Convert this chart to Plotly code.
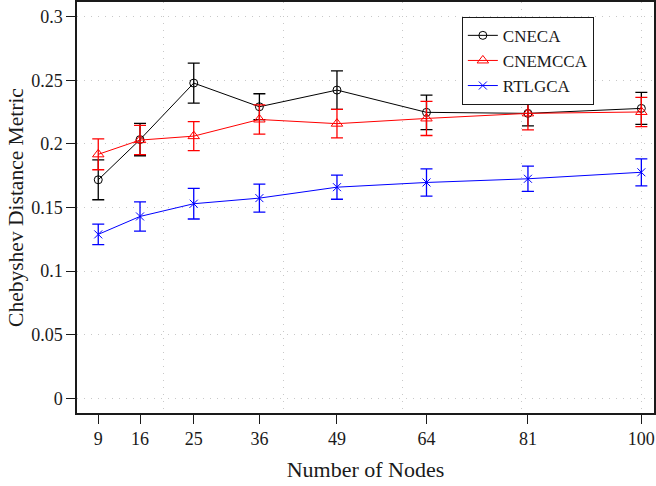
import plotly.graph_objects as go

nodes = [9, 16, 25, 36, 49, 64, 81, 100]

cneca = [0.1718, 0.2034, 0.2478, 0.2292, 0.2423, 0.2248, 0.2240, 0.2279]
cneca_err = [0.0157, 0.0127, 0.0157, 0.0102, 0.0151, 0.0136, 0.0098, 0.0126]

cnemcca = [0.1918, 0.2030, 0.2061, 0.2192, 0.2159, 0.2200, 0.2240, 0.2251]
cnemcca_err = [0.0121, 0.0115, 0.0114, 0.0115, 0.0112, 0.0134, 0.0130, 0.0115]

rtlgca = [0.1289, 0.1430, 0.1530, 0.1574, 0.1660, 0.1697, 0.1726, 0.1777]
rtlgca_err = [0.0080, 0.0115, 0.0120, 0.0110, 0.0095, 0.0107, 0.0099, 0.0106]

y_ticks = [0, 0.05, 0.1, 0.15, 0.2, 0.25, 0.3]
y_ticklabels = ["0", "0.05", "0.1", "0.15", "0.2", "0.25", "0.3"]

FONT = "Liberation Serif"
GRID = "#c8c8c8"
DASH = "1px,6px"
INK = "#1a1a1a"

series = [
    ("CNECA", cneca, cneca_err, "#000000", "circle-open", 8),
    ("CNEMCCA", cnemcca, cnemcca_err, "#ff0000", "triangle-up-open", 10),
    ("RTLGCA", rtlgca, rtlgca_err, "#0000ff", "x-thin-open", 8),
]

fig = go.Figure()
for name, vals, errs, color, sym, size in series:
    fig.add_trace(go.Scatter(
        x=nodes, y=vals, name=name, mode="lines+markers",
        line=dict(color=color, width=1),
        marker=dict(symbol=sym, size=size, color=color,
                    line=dict(color=color, width=1)),
        error_y=dict(type="data", array=errs, visible=True,
                     color=color, thickness=1.3, width=6),
    ))

# dummy trace to host the grid-only overlay axis
fig.add_trace(go.Scatter(x=[None], y=[None], xaxis="x2", showlegend=False,
                         hoverinfo="skip"))

xr = [5.44, 102.12]
fig.update_layout(
    width=656, height=486,
    margin=dict(l=77, r=0, t=1, b=73),
    paper_bgcolor="white", plot_bgcolor="white",
    font=dict(family=FONT, size=18, color=INK),
    showlegend=True,
    legend=dict(x=0.667, y=0.964, xanchor="left", yanchor="top",
                bgcolor="white", bordercolor=INK, borderwidth=1,
                font=dict(family=FONT, size=17, color=INK),
                tracegroupgap=0),
    xaxis=dict(range=xr, tickmode="array", tickvals=nodes,
               ticktext=[str(n) for n in nodes],
               showgrid=False, zeroline=False,
               ticks="outside", ticklen=9, tickwidth=1.2, tickcolor=INK,
               showline=True, linecolor=INK, linewidth=1.5, mirror=True,
               title=dict(text="Number of Nodes",
                          font=dict(family=FONT, size=22, color=INK),
                          standoff=13)),
    xaxis2=dict(range=xr, overlaying="x", side="bottom", tickmode="linear",
                tick0=0, dtick=20, showgrid=True, gridcolor=GRID,
                griddash=DASH, gridwidth=1, showticklabels=False, ticks="",
                showline=False, zeroline=False),
    yaxis=dict(range=[-0.01144, 0.3115], tickmode="array", tickvals=y_ticks,
               ticktext=y_ticklabels, showgrid=True, gridcolor=GRID,
               griddash=DASH, gridwidth=1, zeroline=False,
               ticks="outside", ticklen=9, tickwidth=1.2, tickcolor=INK,
               showline=True, linecolor=INK, linewidth=1.5, mirror=True,
               title=dict(text="Chebyshev Distance Metric",
                          font=dict(family=FONT, size=21.5, color=INK),
                          standoff=2)),
)

fig.write_html("out.html")
